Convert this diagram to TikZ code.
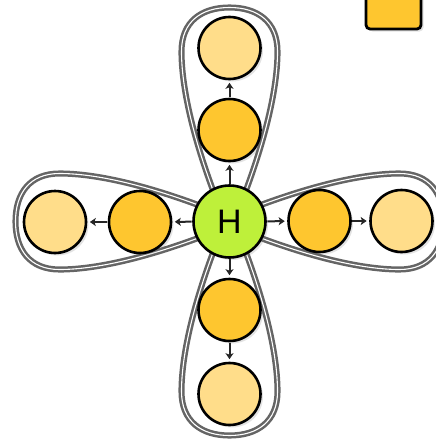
\documentclass[tikz,border=0pt]{standalone}
\usepackage{fontspec}
\setsansfont{Liberation Sans}
\usetikzlibrary{arrows.meta,shadows,backgrounds}
\definecolor{hgreen}{HTML}{BEF03A}
\definecolor{orangeA}{HTML}{FEC62F}
\definecolor{lightA}{HTML}{FFDD8A}
\definecolor{loopgray}{HTML}{656565}
\newcommand\petalpath{(0,10) .. controls (-30,-60) and (-48,-125) .. (-48,-170) .. controls (-48,-200) and (-28,-214) .. (0,-214) .. controls (28,-214) and (48,-200) .. (48,-170) .. controls (48,-125) and (30,-60) .. (0,10) -- cycle}
\begin{document}
\begin{tikzpicture}[x=1pt,y=-1pt,
  ball/.style={circle, draw=black, line width=2.6pt, minimum size=62pt, inner sep=0pt,
    drop shadow={opacity=0.22,shadow xshift=2.5pt,shadow yshift=-2.5pt}},
  near/.style={ball, fill=orangeA},
  far/.style={ball, fill=lightA},
  hub/.style={ball, fill=hgreen, minimum size=72pt, font=\sffamily\fontsize{34}{34}\selectfont},
  link/.style={-{Stealth[length=6pt,width=8pt,inset=1.5pt]}, line width=2pt, draw=black!85, shorten >=2.5pt, shorten <=0.5pt},
  loopline/.style={draw=loopgray, line width=2.5pt, double=white, double distance=1.1pt}]
\useasboundingbox (0,0) rectangle (436,439);
\node[hub] (H) at (229.5,221.5) {H};
\node[near] (t1) at (229.5,130) {};
\node[far]  (t2) at (229.5,48) {};
\node[near] (b1) at (229.5,310) {};
\node[far]  (b2) at (229.5,394) {};
\node[near] (l1) at (140,222) {};
\node[far]  (l2) at (55,222) {};
\node[near] (r1) at (319.5,221) {};
\node[far]  (r2) at (401.5,221) {};
\node[draw=black, line width=2.8pt, rounded corners=4pt, fill=orangeA, minimum size=55pt,
  drop shadow={opacity=0.22,shadow xshift=2.5pt,shadow yshift=-2.5pt}] (key) at (393.5,1.5) {};
\draw[link] (H) -- (t1);
\draw[link] (t1) -- (t2);
\draw[link] (H) -- (b1);
\draw[link] (b1) -- (b2);
\draw[link] (H) -- (l1);
\draw[link] (l1) -- (l2);
\draw[link] (H) -- (r1);
\draw[link] (r1) -- (r2);
\begin{pgfonlayer}{background}
  \foreach \a in {0,90,180,270}{
    \begin{scope}[shift={(H.center)}, rotate=\a]
      \draw[loopline] \petalpath;
    \end{scope}
  }
\end{pgfonlayer}
\end{tikzpicture}
\end{document}
